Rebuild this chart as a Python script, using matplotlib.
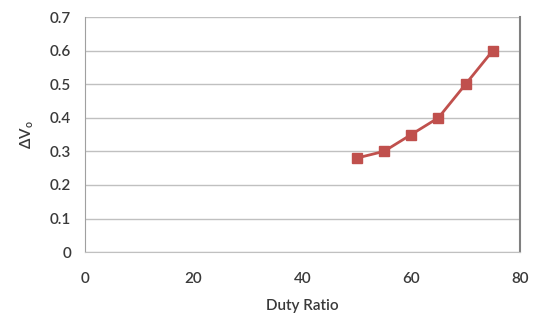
import matplotlib
matplotlib.use("Agg")
import matplotlib.pyplot as plt

# duty ratio (%) vs output ripple
duty = [50, 55, 60, 65, 70, 75]
dv_o = [0.28, 0.30, 0.35, 0.40, 0.50, 0.60]
x_ticks = [0, 20, 40, 60, 80]
y_ticks = [0, 0.1, 0.2, 0.3, 0.4, 0.5, 0.6, 0.7]

plt.rcParams['font.family'] = ['Lato', 'DejaVu Sans']
plt.rcParams['mathtext.default'] = 'regular'

fig = plt.figure(figsize=(5.4, 3.27), dpi=100)
ax = fig.add_axes([0.157, 0.229, 0.806, 0.719])

txt_col = '#3a3a3a'
ax.plot(duty, dv_o, color='#c0504d', linewidth=2, marker='s', markersize=7,
        markerfacecolor='#c0504d', markeredgecolor='#c0504d')

ax.set_xlim(0, 80)
ax.set_ylim(0, 0.7)
ax.set_xticks(x_ticks)
ax.set_yticks(y_ticks)
ax.set_yticklabels(['0', '0.1', '0.2', '0.3', '0.4', '0.5', '0.6', '0.7'])
ax.yaxis.grid(True, color='#c0c0c0', linewidth=1)
ax.set_axisbelow(True)
ax.tick_params(length=0, labelsize=11, colors=txt_col, pad=10)
ax.tick_params(axis='x', pad=14)
for lbl in ax.get_xticklabels() + ax.get_yticklabels():
    lbl.set_fontweight('semibold')

ax.spines['top'].set_visible(False)
ax.spines['left'].set_color('#a0a0a0')
ax.spines['bottom'].set_color('#c0c0c0')
ax.spines['right'].set_color('#808080')
ax.spines['right'].set_linewidth(1.5)

ax.set_xlabel('Duty Ratio', fontsize=11, color=txt_col, labelpad=10, fontweight='semibold')
ax.set_ylabel(r'$\Delta$V$_o$', fontsize=11, color=txt_col, labelpad=10, fontweight='semibold')

fig.savefig('out.png', dpi=100)
